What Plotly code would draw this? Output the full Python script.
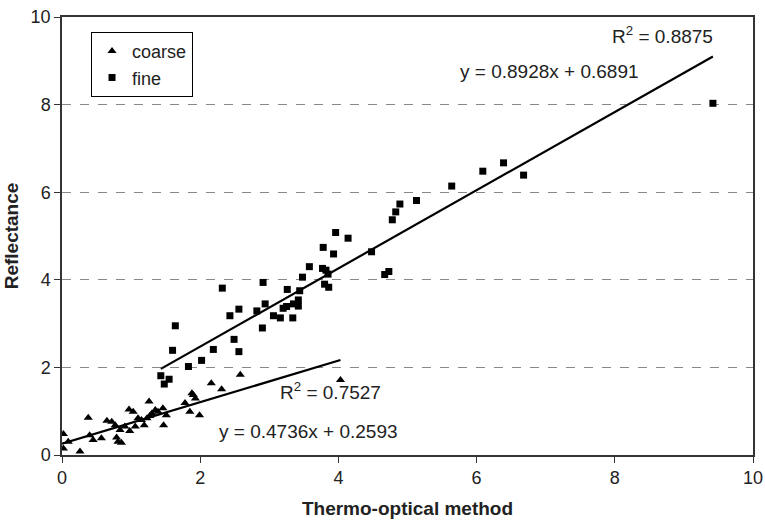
import plotly.graph_objects as go

# coarse particles (Thermo-optical, Reflectance)
coarse_x = [0.02, 0.02, 0.09, 0.26, 0.38, 0.40, 0.45, 0.57, 0.65, 0.72, 0.77, 0.79, 0.81, 0.84,
            0.86, 0.91, 0.97, 0.98, 1.03, 1.06, 1.10, 1.15, 1.19, 1.23, 1.26, 1.27, 1.30, 1.35,
            1.39, 1.46, 1.47, 1.51, 1.78, 1.85, 1.88, 1.90, 1.93, 1.99, 2.16, 2.31, 2.58, 4.03]
coarse_y = [0.48, 0.15, 0.30, 0.08, 0.85, 0.45, 0.34, 0.38, 0.78, 0.76, 0.68, 0.40, 0.30, 0.57,
            0.28, 0.65, 1.04, 0.55, 0.99, 0.65, 0.84, 0.80, 0.68, 0.84, 1.22, 0.89, 0.95, 1.03,
            0.99, 1.07, 0.68, 0.91, 1.19, 0.99, 1.41, 1.37, 1.29, 0.91, 1.64, 1.50, 1.83, 1.71]

# fine particles
fine_x = [9.42, 6.39, 6.68, 6.09, 5.64, 5.13, 4.89, 4.83, 4.78, 4.48, 4.73, 4.67, 3.96, 4.14,
          3.78, 3.93, 3.58, 3.48, 3.77, 3.82, 3.85, 3.80, 3.86, 3.44, 2.91, 3.26, 2.94, 3.25,
          3.20, 3.35, 3.42, 3.42, 3.06, 3.16, 3.34, 2.90, 2.32, 2.56, 2.43, 2.82, 1.64, 2.49,
          2.56, 2.19, 1.60, 2.02, 1.83, 1.43, 1.55, 1.48]
fine_y = [8.03, 6.67, 6.39, 6.48, 6.14, 5.81, 5.73, 5.55, 5.37, 4.64, 4.19, 4.12, 5.08, 4.95,
          4.74, 4.59, 4.30, 4.06, 4.26, 4.22, 4.13, 3.90, 3.83, 3.75, 3.94, 3.78, 3.45, 3.39,
          3.35, 3.45, 3.54, 3.40, 3.18, 3.13, 3.13, 2.90, 3.81, 3.33, 3.18, 3.29, 2.95, 2.64,
          2.36, 2.41, 2.39, 2.16, 2.02, 1.81, 1.73, 1.62]

# regression fits (slope, intercept, x range) as stated on the chart
coarse_fit = (0.4736, 0.2593, 0.0, 4.03)
fine_fit = (0.8928, 0.6891, 1.43, 9.42)

x_ticks = [0, 2, 4, 6, 8, 10]
y_ticks = [0, 2, 4, 6, 8, 10]

FONT = "Liberation Sans, Arial, sans-serif"
TXT = "#222"

fig = go.Figure()

fig.add_trace(go.Scatter(x=coarse_x, y=coarse_y, mode="markers", name="coarse",
                         marker=dict(symbol="triangle-up", size=8, color="black")))
fig.add_trace(go.Scatter(x=fine_x, y=fine_y, mode="markers", name="fine",
                         marker=dict(symbol="square", size=7, color="black")))

for m, b, x0, x1 in (coarse_fit, fine_fit):
    fig.add_trace(go.Scatter(x=[x0, x1], y=[m * x0 + b, m * x1 + b], mode="lines",
                             line=dict(color="black", width=2.2), showlegend=False,
                             hoverinfo="skip"))

ann_font = dict(family=FONT, size=19, color=TXT)
fig.add_annotation(x=9.45, y=9.6, xref="x", yref="y", text="R<sup>2</sup> = 0.8875",
                   showarrow=False, xanchor="right", font=ann_font)
fig.add_annotation(x=8.38, y=8.76, xref="x", yref="y", text="y = 0.8928x + 0.6891",
                   showarrow=False, xanchor="right", font=ann_font)
fig.add_annotation(x=3.12, y=1.45, xref="x", yref="y", text="R<sup>2</sup> = 0.7527",
                   showarrow=False, xanchor="left", font=ann_font)
fig.add_annotation(x=2.25, y=0.53, xref="x", yref="y", text="y = 0.4736x + 0.2593",
                   showarrow=False, xanchor="left", font=ann_font)

fig.update_layout(
    width=765, height=520,
    margin=dict(l=62, r=12, t=17, b=65),
    paper_bgcolor="white", plot_bgcolor="white",
    font=dict(family=FONT, size=18, color=TXT),
    showlegend=True,
    legend=dict(x=0.042, y=0.966, xanchor="left", yanchor="top",
                bordercolor="black", borderwidth=1, bgcolor="white",
                font=dict(family=FONT, size=18, color=TXT),
                tracegroupgap=0),
    xaxis=dict(range=[0, 10], tickvals=x_ticks, ticktext=[str(v) for v in x_ticks],
               automargin=False,
               showline=True, linecolor="#333", linewidth=1.5, mirror=True,
               ticks="outside", ticklen=6, tickcolor="#333", showgrid=False, zeroline=False,
               tickfont=dict(family=FONT, size=18, color=TXT),
               title=dict(text="<b>Thermo-optical method</b>", standoff=14,
                          font=dict(family=FONT, size=19, color=TXT))),
    yaxis=dict(range=[0, 10], tickvals=y_ticks, ticktext=[str(v) for v in y_ticks],
               automargin=False,
               showline=True, linecolor="#333", linewidth=1.5, mirror=True,
               ticks="outside", ticklen=6, tickcolor="#333",
               tickfont=dict(family=FONT, size=18, color=TXT),
               showgrid=True, gridcolor="#888", griddash="dash", gridwidth=1, zeroline=False,
               title=dict(text="<b>Reflectance</b>", standoff=7,
                          font=dict(family=FONT, size=19, color=TXT))),
)

fig.write_html("out.html")
